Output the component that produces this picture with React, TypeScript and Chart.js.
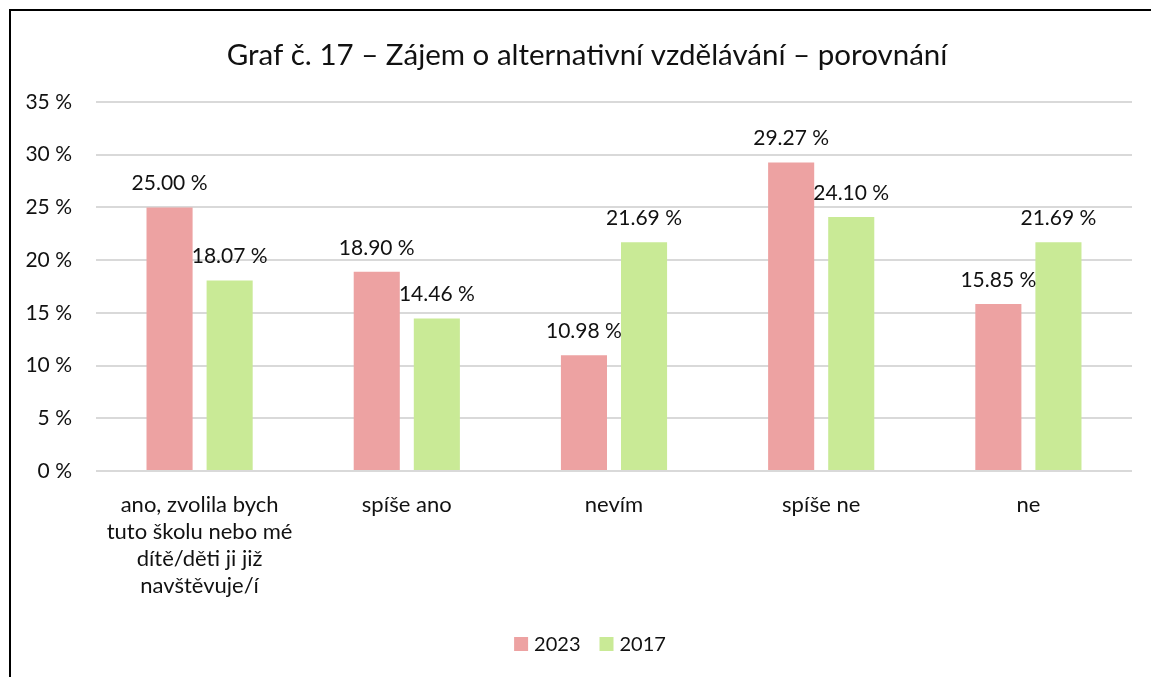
import React, { useEffect, useRef } from "react";
import { Chart, registerables } from "chart.js";

Chart.register(...registerables);

const TITLE = "Graf č. 17 – Zájem o alternativní vzdělávání – porovnání";
const CATEGORIES: string[][] = [
  ["ano, zvolila bych", "tuto školu nebo mé", "dítě/děti ji již", "navštěvuje/í"],
  ["spíše ano"],
  ["nevím"],
  ["spíše ne"],
  ["ne"],
];
const SERIES_2023 = [25.0, 18.9, 10.98, 29.27, 15.85];
const SERIES_2017 = [18.07, 14.46, 21.69, 24.1, 21.69];
const SERIES_NAMES = ["2023", "2017"];
const COLORS = ["#EDA2A2", "#C9EA96"];
const Y_MAX = 35;
const Y_STEP = 5;

const FONT = "Lato";
const TEXT = "#111111";
const TITLE_CX = 587;
const TITLE_CY = 55;
const LEGEND_CX = 590;
const LEGEND_CY = 644;

const frameAndLabels = {
  id: "frameAndLabels",
  beforeDraw(chart: any) {
    const { ctx } = chart;
    ctx.save();
    ctx.fillStyle = "#ffffff";
    ctx.fillRect(0, 0, chart.width, chart.height);
    ctx.restore();
  },
  afterDraw(chart: any) {
    const { ctx } = chart;
    ctx.save();
    // frame
    ctx.strokeStyle = "#000000";
    ctx.lineWidth = 2;
    ctx.strokeRect(10, 10, chart.width + 50, chart.height + 50);
    // title
    ctx.fillStyle = TEXT;
    ctx.font = `29.5px ${FONT}`;
    ctx.textAlign = "center";
    ctx.textBaseline = "middle";
    ctx.fillText(TITLE, TITLE_CX, TITLE_CY);
    // legend
    ctx.font = `20px ${FONT}`;
    ctx.textAlign = "left";
    const box = 14;
    const gap = 6;
    const itemGap = 19;
    const widths = SERIES_NAMES.map((n) => ctx.measureText(n).width);
    const total =
      widths.reduce((a: number, w: number) => a + box + gap + w, 0) + itemGap * (SERIES_NAMES.length - 1);
    let x = LEGEND_CX - total / 2;
    SERIES_NAMES.forEach((n, i) => {
      ctx.fillStyle = COLORS[i];
      ctx.fillRect(x, LEGEND_CY - box / 2, box, box);
      ctx.fillStyle = TEXT;
      ctx.fillText(n, x + box + gap, LEGEND_CY + 1);
      x += box + gap + widths[i] + itemGap;
    });
    ctx.restore();
  },
  afterDatasetsDraw(chart: any) {
    const { ctx } = chart;
    ctx.save();
    ctx.font = `21px ${FONT}`;
    ctx.fillStyle = TEXT;
    ctx.textAlign = "center";
    ctx.textBaseline = "middle";
    chart.data.datasets.forEach((ds: any, i: number) => {
      const meta = chart.getDatasetMeta(i);
      meta.data.forEach((bar: any, j: number) => {
        const v = ds.data[j] as number;
        ctx.fillText(v.toFixed(2) + " %", bar.x, bar.y - 24);
      });
    });
    ctx.restore();
  },
};

export default function App() {
  const ref = useRef<HTMLCanvasElement>(null);
  useEffect(() => {
    if (!ref.current) return;
    const chart = new Chart(ref.current, {
      type: "bar",
      data: {
        labels: CATEGORIES,
        datasets: [
          {
            label: SERIES_NAMES[0],
            data: SERIES_2023,
            backgroundColor: COLORS[0],
            categoryPercentage: 0.58,
            barPercentage: 0.767,
          },
          {
            label: SERIES_NAMES[1],
            data: SERIES_2017,
            backgroundColor: COLORS[1],
            categoryPercentage: 0.58,
            barPercentage: 0.767,
          },
        ],
      },
      options: {
        animation: false,
        responsive: false,
        maintainAspectRatio: false,
        layout: { padding: { left: 0, right: 19, top: 102, bottom: 0 } },
        plugins: {
          title: { display: false },
          legend: { display: false },
          tooltip: { enabled: false },
        },
        scales: {
          x: {
            grid: { display: false, drawTicks: false },
            border: { display: false },
            ticks: {
              color: TEXT,
              font: { family: FONT, size: 22, lineHeight: 1.23 },
              padding: 20,
              maxRotation: 0,
              autoSkip: false,
            },
            afterFit: (s: any) => {
              s.height = 206;
            },
          },
          y: {
            min: 0,
            max: Y_MAX,
            grid: { color: "#D9D9D9", lineWidth: 2, drawTicks: false },
            border: { display: false },
            ticks: {
              stepSize: Y_STEP,
              color: TEXT,
              font: { family: FONT, size: 21 },
              padding: 24,
              callback: (v: any) => `${v} %`,
            },
            afterFit: (s: any) => {
              s.width = 96;
            },
          },
        },
      },
      plugins: [frameAndLabels],
    });
    return () => chart.destroy();
  }, []);
  return (
    <div style={{ position: "fixed", left: 0, top: 0, width: 1151, height: 677 }}>
      <canvas ref={ref} width={1151} height={677} style={{ width: 1151, height: 677 }} />
    </div>
  );
}
